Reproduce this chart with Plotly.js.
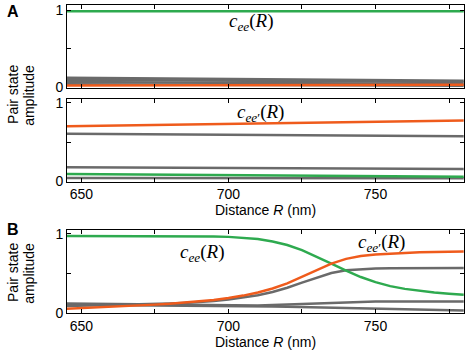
<!DOCTYPE html>
<html><head><meta charset="utf-8">
<script src="https://cdn.plot.ly/plotly-3.0.1.min.js"></script>
<style>html,body{margin:0;padding:0;background:#fff}#plot{width:468px;height:353px}</style>
</head><body><div id="plot"></div>
<script>
// Panel A (top): fixed-ish amplitudes
const xA = [645, 680, 715, 750, 780];
const aTopGreen = [0.985, 0.985, 0.985, 0.985, 0.985];
const aTopGrey1 = [0.125, 0.115, 0.105, 0.095, 0.085];
const aTopGrey2 = [0.100, 0.093, 0.085, 0.078, 0.070];
const aTopGrey3 = [0.070, 0.065, 0.058, 0.052, 0.045];
const aTopGrey4 = [0.040, 0.035, 0.030, 0.025, 0.020];
const aTopOrange = [0.025, 0.027, 0.030, 0.032, 0.033];
// Panel A (bottom)
const aBotOrange = [0.700, 0.720, 0.740, 0.760, 0.775];
const aBotGrey1 = [0.605, 0.597, 0.588, 0.580, 0.573];
const aBotGrey2 = [0.180, 0.175, 0.170, 0.165, 0.160];
const aBotGreen = [0.095, 0.087, 0.078, 0.070, 0.062];
const aBotGrey3 = [0.045, 0.045, 0.044, 0.044, 0.043];
// Panel B
const xB = [645,650,655,660,665,670,675,680,685,690,695,700,705,710,715,720,725,730,735,740,745,750,755,760,765,770,775,780];
const bGreen = [0.975,0.975,0.975,0.975,0.975,0.975,0.975,0.974,0.973,0.971,0.968,0.963,0.953,0.935,0.905,0.86,0.795,0.715,0.625,0.535,0.455,0.39,0.34,0.305,0.28,0.26,0.245,0.232];
const bOrange = [0.055,0.062,0.07,0.078,0.087,0.096,0.106,0.117,0.13,0.145,0.165,0.19,0.22,0.26,0.31,0.375,0.455,0.545,0.625,0.685,0.72,0.74,0.752,0.76,0.767,0.772,0.776,0.779];
const bGrey1 = [0.09,0.093,0.096,0.1,0.104,0.108,0.113,0.12,0.128,0.138,0.152,0.17,0.195,0.225,0.265,0.32,0.385,0.45,0.505,0.54,0.555,0.563,0.567,0.569,0.57,0.57,0.57,0.57];
const bGrey2 = [0.12,0.118,0.115,0.113,0.11,0.108,0.105,0.103,0.1,0.098,0.095,0.093,0.093,0.095,0.1,0.107,0.115,0.124,0.132,0.138,0.142,0.144,0.145,0.145,0.145,0.145,0.145,0.145];
const bGrey3 = [0.105,0.104,0.102,0.101,0.1,0.099,0.097,0.096,0.095,0.094,0.092,0.09,0.088,0.086,0.083,0.08,0.076,0.072,0.067,0.062,0.057,0.052,0.047,0.043,0.04,0.037,0.034,0.032];

const xTicks = [650, 675, 700, 725, 750, 775];
const xTickText = ['650', '', '700', '', '750', ''];
const yTicks = [0, 0.5, 1];
const yTickText = ['0', '', '1'];

const GREEN = '#2eaa4f', ORANGE = '#ef5b1c', GREY = '#6a6a6a';
function tr(x, y, c, xa, ya) {
  return {x: x, y: y, type: 'scatter', mode: 'lines', line: {color: c, width: 2.5},
          xaxis: xa, yaxis: ya, hoverinfo: 'skip', showlegend: false};
}
const data = [
  tr(xA, aTopGrey1, GREY, 'x', 'y'), tr(xA, aTopGrey2, GREY, 'x', 'y'),
  tr(xA, aTopGrey3, GREY, 'x', 'y'), tr(xA, aTopGrey4, GREY, 'x', 'y'),
  tr(xA, aTopOrange, ORANGE, 'x', 'y'), tr(xA, aTopGreen, GREEN, 'x', 'y'),
  tr(xA, aBotGrey1, GREY, 'x2', 'y2'), tr(xA, aBotGrey2, GREY, 'x2', 'y2'),
  tr(xA, aBotGrey3, GREY, 'x2', 'y2'), tr(xA, aBotGreen, GREEN, 'x2', 'y2'),
  tr(xA, aBotOrange, ORANGE, 'x2', 'y2'),
  tr(xB, bGrey3, GREY, 'x3', 'y3'), tr(xB, bGrey2, GREY, 'x3', 'y3'),
  tr(xB, bGrey1, GREY, 'x3', 'y3'), tr(xB, bGreen, GREEN, 'x3', 'y3'),
  tr(xB, bOrange, ORANGE, 'x3', 'y3')
];
const FONT = 'Liberation Sans, Arial, sans-serif';
function xax(anchor, labels, title) {
  const a = {anchor: anchor, range: [645.1, 780.1], tickmode: 'array', tickvals: xTicks,
    ticktext: labels ? xTickText : xTicks.map(() => ''), ticks: 'inside', ticklen: 4,
    tickcolor: '#000', showline: true, linecolor: '#000', linewidth: 1, mirror: 'ticks',
    showgrid: false, zeroline: false, tickfont: {size: 14, color: '#000', family: FONT}};
  if (title) a.title = {text: 'Distance <i>R</i> (nm)', standoff: 0, font: {size: 14, color: '#000', family: FONT}};
  return a;
}
function yax(anchor, dom, rng) {
  return {anchor: anchor, domain: dom, range: rng, tickmode: 'array', tickvals: yTicks, ticktext: yTickText,
    ticks: 'inside', ticklen: 4, tickcolor: '#000', showline: true, linecolor: '#000', linewidth: 1,
    mirror: 'ticks', showgrid: false, zeroline: false, tickfont: {size: 14, color: '#000', family: FONT}};
}
const cee = '<i>c</i><sub><i>ee</i></sub>(<i>R</i>)';
const ceep = '<i>c</i><sub><i>ee</i>′</sub>(<i>R</i>)';
const SERIF = {family: 'Liberation Serif, serif', size: 19, color: '#000'};
function lab(text, x, y, size, rot) {
  const a = {text: text, x: x, y: y, xref: 'paper', yref: 'paper', xanchor: 'center', yanchor: 'middle',
    showarrow: false, font: {family: FONT, size: size, color: '#000'}};
  if (rot) a.textangle = -90;
  return a;
}
const layout = {
  width: 468, height: 353, margin: {l: 67, r: 4, t: 5, b: 40},
  paper_bgcolor: '#fff', plot_bgcolor: '#fff',
  xaxis: xax('y', false, false), yaxis: yax('x', [0.7305, 1], [-0.008, 1.065]),
  xaxis2: xax('y2', true, true), yaxis2: yax('x2', [0.4263, 0.6938], [-0.002, 1.042]),
  xaxis3: xax('y3', true, true), yaxis3: yax('x3', [0, 0.2695], [0, 1.05]),
  annotations: [
    {text: cee, x: 707.9, y: 0.845, xref: 'x', yref: 'y', showarrow: false, font: SERIF},
    {text: ceep, x: 710.9, y: 0.87, xref: 'x2', yref: 'y2', showarrow: false, font: SERIF},
    {text: cee, x: 691.2, y: 0.757, xref: 'x3', yref: 'y3', showarrow: false, font: SERIF},
    {text: ceep, x: 752, y: 0.884, xref: 'x3', yref: 'y3', showarrow: false, font: SERIF},
    lab('<b>A</b>', -0.136, 0.98, 16, false),
    lab('<b>B</b>', -0.136, 0.2695, 16, false),
    lab('Pair state', -0.136, 0.708, 14, true),
    lab('amplitude', -0.096, 0.708, 14, true),
    lab('Pair state', -0.136, 0.13, 14, true),
    lab('amplitude', -0.096, 0.13, 14, true)
  ]
};
Plotly.newPlot('plot', data, layout, {staticPlot: true, displayModeBar: false});
</script></body></html>
